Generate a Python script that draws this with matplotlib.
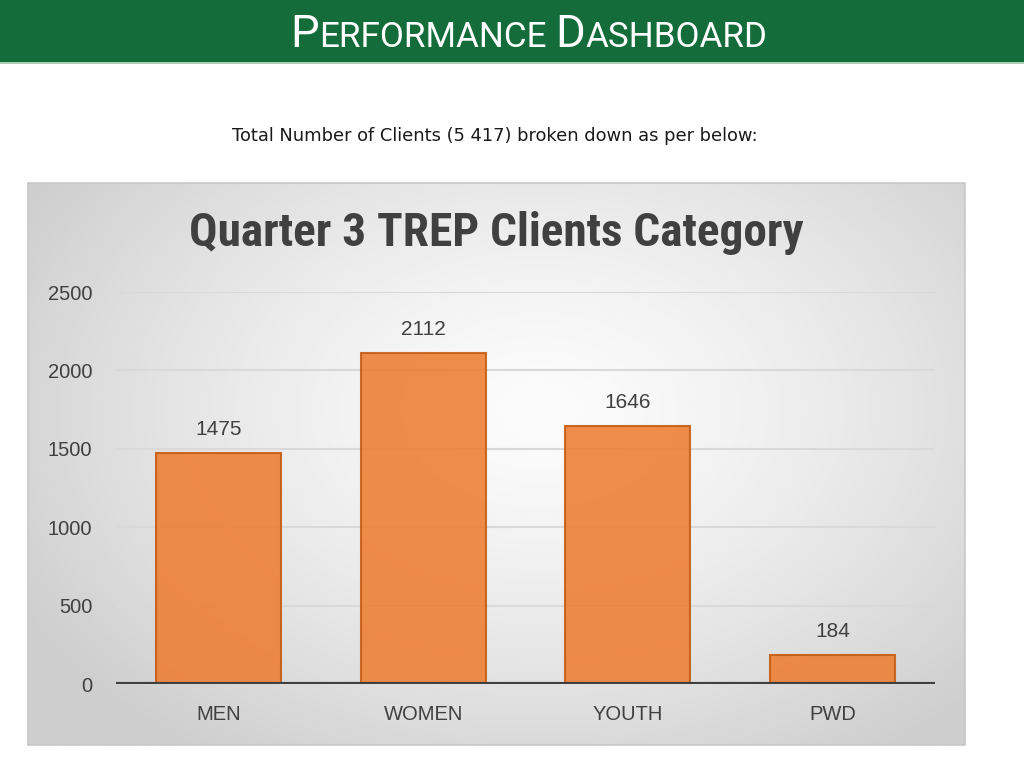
import numpy as np
import matplotlib.pyplot as plt
from matplotlib import font_manager
from matplotlib.patches import Rectangle

# данные
categories = ['MEN', 'WOMEN', 'YOUTH', 'PWD']
clients = [1475, 2112, 1646, 184]
y_ticks = [0, 500, 1000, 1500, 2000, 2500]

header_title = [('P', 1.0), ('ERFORMANCE', 0.77), (' ', 0.77), ('D', 1.0), ('ASHBOARD', 0.77)]
subtitle = 'Total Number of Clients (5 417) broken down as per below:'
chart_title = 'Quarter 3 TREP Clients Category'

W, H = 1024, 768

# подбираем узкий шрифт, если он есть
names = {f.name for f in font_manager.fontManager.ttflist}
condensed = [f.name for f in font_manager.fontManager.ttflist
             if f.stretch in ('condensed', 'semi-condensed', 'extra-condensed')]
narrow = 'Roboto'
for cand in ['Roboto Condensed', 'Liberation Sans Narrow', 'Open Sans Condensed']:
    if cand in names:
        narrow = cand
        break
else:
    if condensed:
        narrow = condensed[0]

fig = plt.figure(figsize=(W / 100, H / 100), dpi=100)
fig.patch.set_facecolor('white')
renderer = fig.canvas.get_renderer()


def fit_size(t, target_w):
    w = t.get_window_extent(renderer=renderer).width
    t.set_fontsize(t.get_fontsize() * target_w / w)


# зелёная шапка
fig.patches.append(Rectangle((0, 1 - 62 / H), 1, 62 / H, transform=fig.transFigure,
                             facecolor='#146c3a', edgecolor='none', zorder=0))
fig.patches.append(Rectangle((0, 1 - 64 / H), 1, 2 / H, transform=fig.transFigure,
                             facecolor='#a9cdb5', edgecolor='none', zorder=0))

# заголовок капителью
big = 32
pieces = []
for s, k in header_title:
    t = fig.text(0, 0, s, fontsize=big * k, color='white', family='Roboto',
                 va='baseline', ha='left')
    pieces.append(t)
total = sum(p.get_window_extent(renderer=renderer).width for p in pieces)
for p in pieces:
    p.set_fontsize(p.get_fontsize() * 478 / total)
widths = [p.get_window_extent(renderer=renderer).width for p in pieces]
x = 529 - sum(widths) / 2
for p, w in zip(pieces, widths):
    p.set_position((x / W, 1 - 47 / H))
    x += w

sub = fig.text(495 / W, 1 - 136 / H, subtitle, fontsize=12, color='#1a1a1a',
               family='DejaVu Sans', ha='center', va='center')
fit_size(sub, 524)

# серый фон диаграммы с радиальным градиентом
px0, py0, px1, py1 = 28, 183, 965, 745
bg = fig.add_axes([px0 / W, 1 - py1 / H, (px1 - px0) / W, (py1 - py0) / H], zorder=0)
gx, gy = np.meshgrid(np.linspace(px0, px1, 300), np.linspace(py0, py1, 200))
d = np.sqrt(((gx - 540) / 540) ** 2 + ((gy - 410) / 380) ** 2)
shade = np.clip(252 - 40 * d ** 1.4, 206, 252) / 255
bg.imshow(np.dstack([shade] * 3), aspect='auto', extent=(0, 1, 0, 1))
bg.set_xlim(0, 1)
bg.set_ylim(0, 1)
bg.axis('off')
fig.patches.append(Rectangle((px0 / W, 1 - py1 / H), (px1 - px0) / W, (py1 - py0) / H,
                             transform=fig.transFigure, facecolor='none',
                             edgecolor='#c8c8c8', lw=1.2, zorder=5))

ttl = fig.text(496 / W, 1 - 233 / H, chart_title, fontsize=29, fontweight='bold',
               color='#404040', family=narrow, fontstretch='condensed',
               ha='center', va='center', zorder=6)
fit_size(ttl, 613)

# столбцы
ax = fig.add_axes([116 / W, 1 - 684 / H, 819 / W, 392 / H], zorder=2)
ax.patch.set_alpha(0)
xs = np.arange(len(categories))
bars = ax.bar(xs, clients, width=0.61, color='#ED7D31', alpha=0.88,
              edgecolor='#C55A11', linewidth=1.5, zorder=3)
for b, v in zip(bars, clients):
    ax.annotate(str(v), (b.get_x() + b.get_width() / 2, v), xytext=(0, 10),
                textcoords='offset points', ha='center', va='bottom',
                fontsize=15, color='#404040', family='Liberation Sans')

ax.set_xlim(-0.5, len(categories) - 0.5)
ax.set_ylim(0, 2500)
ax.set_yticks(y_ticks)
ax.set_xticks(xs)
ax.set_xticklabels(categories)
for s in ax.spines.values():
    s.set_visible(False)
ax.grid(axis='y', color='#d9d9d9', lw=1.5, zorder=1)
ax.axhline(0, color='#404040', lw=3, zorder=4)
ax.tick_params(length=0, labelsize=14.5, labelcolor='#404040')
ax.tick_params(axis='y', pad=17)
ax.tick_params(axis='x', pad=15)
for lab in ax.get_xticklabels() + ax.get_yticklabels():
    lab.set_family('Liberation Sans')

fig.savefig('out.png', dpi=100)
